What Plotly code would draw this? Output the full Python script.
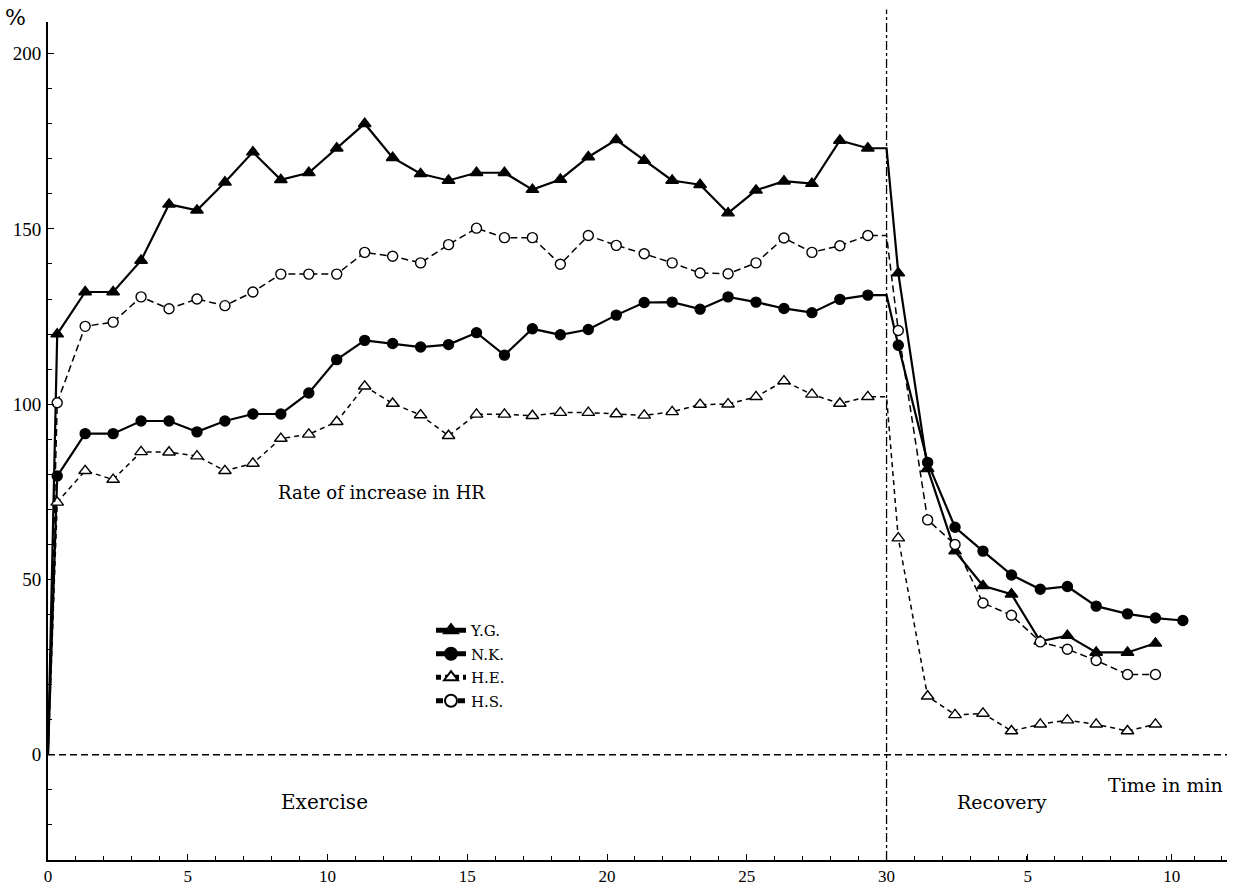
import plotly.graph_objects as go

# ---------------- data ----------------
exercise_t = [0, 0.33, 1.33, 2.33, 3.33, 4.33, 5.33, 6.33, 7.33, 8.33, 9.33,
              10.33, 11.33, 12.33, 13.33, 14.33, 15.33, 16.33, 17.33, 18.33, 19.33,
              20.33, 21.33, 22.33, 23.33, 24.33, 25.33, 26.33, 27.33, 28.33, 29.33, 30]
recovery_t = [30.42, 31.47, 32.45, 33.45, 34.47, 35.5, 36.47, 37.5, 38.62, 39.62, 40.6]

yg_ex = [0, 120, 132, 132, 141, 157, 155.3, 163.3, 171.9, 164, 166,
         173, 180, 170.3, 165.7, 163.8, 166, 166, 161.2, 164.1, 170.5,
         175.4, 169.5, 163.8, 162.6, 154.5, 161, 163.6, 162.9, 175.2, 173, 173]
nk_ex = [0, 79.5, 91.6, 91.6, 95.2, 95.2, 92.1, 95.2, 97.2, 97.2, 103.2,
         112.7, 118.2, 117.3, 116.3, 117.0, 120.4, 114.0, 121.5, 119.8, 121.3,
         125.4, 129.0, 129.1, 127.1, 130.6, 129.1, 127.3, 126.1, 129.9, 131.1, 131.1]
he_ex = [0, 72, 81, 78.5, 86.4, 86.3, 85.2, 81, 83.1, 90.2, 91.4,
         95, 105.1, 100.2, 96.9, 91, 97.1, 97.1, 96.7, 97.6, 97.6,
         97.2, 96.8, 97.8, 99.9, 100, 102.1, 106.6, 102.8, 100.2, 102.1, 102.1]
hs_ex = [0, 100.4, 122.2, 123.4, 130.6, 127.2, 130, 128.1, 132, 137.1, 137.1,
         137.1, 143.3, 142.2, 140.3, 145.5, 150.2, 147.5, 147.5, 139.9, 148.1,
         145.3, 142.9, 140.3, 137.4, 137.2, 140.3, 147.4, 143.3, 145.2, 148.1, 148.1]

yg_rec = [137.4, 81.6, 58.1, 48.2, 45.8, 32.4, 34.0, 29.2, 29.2, 31.8]
nk_rec = [116.8, 83.4, 64.9, 58.1, 51.3, 47.2, 48.0, 42.4, 40.2, 39.0, 38.3]
he_rec = [61.8, 16.7, 11.4, 11.8, 6.8, 8.7, 9.9, 8.7, 6.8, 8.7]
hs_rec = [121, 67.0, 60.0, 43.3, 39.8, 32.2, 30.1, 26.9, 22.9, 22.9]

subjects = ["Y.G.", "N.K.", "H.E.", "H.S."]
x_tickvals = [0, 5, 10, 15, 20, 25, 30, 35.05, 40.2]
x_ticktext = ["0", "5", "10", "15", "20", "25", "30", "5", "10"]
y_tickvals = [0, 50, 100, 150, 200]
y_ticktext = ["0", "50", "100", "150", "200"]

# ---------------- figure ----------------
W, H = 1236, 887
ML, MR, MT, MB = 48, 9, 22, 27
TICKFONT = "Liberation Serif, Times New Roman, serif"
TEXTFONT = "DejaVu Serif, serif"


def px2paper(px, py):
    return (px - ML) / (W - ML - MR), (H - MB - py) / (H - MT - MB)


styles = {
    "Y.G.": dict(symbol="triangle-up", fill="black", dash="solid", width=2.2, size=11),
    "N.K.": dict(symbol="circle", fill="black", dash="solid", width=2.2, size=10),
    "H.E.": dict(symbol="triangle-up", fill="white", dash="5px,4px", width=1.5, size=11),
    "H.S.": dict(symbol="circle", fill="white", dash="7px,4px", width=1.5, size=10),
}
series = {
    "Y.G.": (yg_ex, yg_rec),
    "N.K.": (nk_ex, nk_rec),
    "H.E.": (he_ex, he_rec),
    "H.S.": (hs_ex, hs_rec),
}

fig = go.Figure()

# reference lines
fig.add_shape(type="line", xref="paper", yref="y", x0=0, x1=1, y0=0, y1=0,
              line=dict(color="black", width=1.5, dash="7px,4px"))
fig.add_shape(type="line", xref="x", yref="paper", x0=30, x1=30, y0=0, y1=1.015,
              line=dict(color="black", width=1.3, dash="dashdot"))

for name in subjects:
    ex, rec = series[name]
    st = styles[name]
    xs = exercise_t + recovery_t[:len(rec)]
    ys = ex + rec
    sizes = [st["size"]] * len(xs)
    sizes[0] = 0
    sizes[len(ex) - 1] = 0
    fig.add_trace(go.Scatter(
        x=xs, y=ys, mode="lines+markers", name=name, legendgroup=name,
        line=dict(color="black", width=st["width"], dash=st["dash"]),
        marker=dict(symbol=st["symbol"], size=sizes, color=st["fill"], opacity=1,
                    line=dict(color="black", width=1.4)),
        cliponaxis=False,
    ))

annotations = []
for text, (px, py), xa, fs in [
    ("%", (15, 18), "center", 22),
    ("Rate of increase in HR", (381, 492), "center", 18),
    ("Exercise", (324, 802), "center", 20),
    ("Recovery", (1002, 802), "center", 19),
    ("Time in min", (1225, 785), "right", 19),
]:
    ax, ay = px2paper(px, py)
    annotations.append(dict(text=text, x=ax, y=ay, xref="paper", yref="paper",
                            xanchor=xa, yanchor="middle", showarrow=False,
                            font=dict(family=TEXTFONT, size=fs, color="black")))

lx, ly = px2paper(431, 614)

fig.update_layout(
    width=W, height=H,
    margin=dict(l=ML, r=MR, t=MT, b=MB, autoexpand=False),
    paper_bgcolor="white", plot_bgcolor="white",
    font=dict(family=TICKFONT, size=19, color="black"),
    annotations=annotations,
    showlegend=True,
    legend=dict(x=lx, y=ly, xanchor="left", yanchor="top",
                bgcolor="rgba(0,0,0,0)", font=dict(family=TEXTFONT, size=15),
                itemsizing="constant", tracegroupgap=1),
    xaxis=dict(range=[0, 42.18], showgrid=False, zeroline=False, automargin=False,
               showline=True, linecolor="black", linewidth=1.5,
               tickmode="array", tickvals=x_tickvals, ticktext=x_ticktext,
               ticks="inside", ticklen=6, tickwidth=1.3, tickcolor="black",
               minor=dict(dtick=1, tick0=0, ticks="inside", ticklen=4,
                          tickwidth=1, tickcolor="black"),
               tickfont=dict(family=TICKFONT, size=17)),
    yaxis=dict(range=[-30, 209], showgrid=False, zeroline=False, automargin=False,
               showline=True, linecolor="black", linewidth=2,
               tickmode="array", tickvals=y_tickvals, ticktext=y_ticktext,
               ticks="inside", ticklen=6, tickwidth=1.3, tickcolor="black",
               ticklabelstandoff=1,
               minor=dict(dtick=10, tick0=0, ticks="inside", ticklen=4,
                          tickwidth=1, tickcolor="black"),
               tickfont=dict(family=TICKFONT, size=19)),
)

fig.write_html("out.html", config={"displayModeBar": False},
               post_script="document.body.style.margin='0';document.body.style.overflow='hidden';")
